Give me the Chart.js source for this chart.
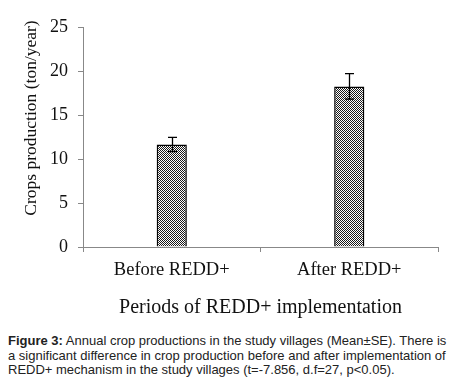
<!DOCTYPE html>
<html>
<head>
<meta charset="utf-8">
<script src="https://cdn.jsdelivr.net/npm/chart.js@4.4.0/dist/chart.umd.min.js"></script>
<style>
  body { margin: 0; background: #fff; }
  #wrap { position: relative; width: 456px; height: 387px; }
  #chart { position: absolute; left: 0; top: 0; }
  .caption {
    position: absolute; left: 8px; top: 334px; width: 446px;
    font-family: "Liberation Sans", Arial, sans-serif; font-size: 13px;
    line-height: 14.7px; color: #222;
  }
</style>
</head>
<body>
<div id="wrap">
  <canvas id="chart" width="456" height="325"></canvas>
  <div class="caption"><b>Figure 3:</b> Annual crop productions in the study villages (Mean±SE). There is a significant difference in crop production before and after implementation of REDD+ mechanism in the study villages (t=-7.856, d.f=27, p&lt;0.05).</div>
</div>
<script>
// data
const periods = ['Before REDD+', 'After REDD+'];
const meanProduction = [11.65, 18.25];
const standardError = [0.8, 1.45];
const yTicks = [0, 5, 10, 15, 20, 25];

const serif = '"Liberation Serif", "Times New Roman", serif';

// checkered fill like the original bars
const makePattern = () => {
    const c = document.createElement('canvas');
    c.width = 2; c.height = 2;
    const g = c.getContext('2d');
    g.fillStyle = '#fff';
    g.fillRect(0, 0, 2, 2);
    g.fillStyle = '#1a1a1a';
    g.fillRect(0, 0, 1, 1);
    g.fillRect(1, 1, 1, 1);
    return g.createPattern(c, 'repeat');
};

// error bars drawn from the scales
const errorBars = {
    id: 'errorBars',
    afterDatasetsDraw(chart) {
        const ctx = chart.ctx;
        const y = chart.scales.y;
        const meta = chart.getDatasetMeta(0);
        ctx.save();
        ctx.strokeStyle = '#000';
        ctx.lineWidth = 1.3;
        meta.data.forEach((bar, i) => {
            const top = y.getPixelForValue(meanProduction[i] + standardError[i]);
            const bot = y.getPixelForValue(meanProduction[i] - standardError[i]);
            const x = Math.round(bar.x) + 0.5;
            ctx.beginPath();
            ctx.moveTo(x, top); ctx.lineTo(x, bot);
            ctx.moveTo(x - 4.5, top); ctx.lineTo(x + 4.5, top);
            ctx.moveTo(x - 4.5, bot); ctx.lineTo(x + 4.5, bot);
            ctx.stroke();
        });
        ctx.restore();
    }
};

// y title sits a bit above the middle of the axis in the original
const yTitle = {
    id: 'yTitle',
    afterDraw(chart) {
        const ctx = chart.ctx;
        ctx.save();
        ctx.translate(31, 118);
        ctx.rotate(-Math.PI / 2);
        ctx.font = '17.5px ' + serif;
        ctx.fillStyle = '#111';
        ctx.textAlign = 'center';
        ctx.textBaseline = 'middle';
        ctx.fillText('Crops production (ton/year)', 0, 0);
        ctx.restore();
    }
};

new Chart(document.getElementById('chart'), {
    type: 'bar',
    data: {
        labels: periods,
        datasets: [{
            data: meanProduction,
            backgroundColor: makePattern(),
            borderColor: '#000',
            borderWidth: 1.5,
            barPercentage: 0.34,
            categoryPercentage: 0.5
        }]
    },
    options: {
        responsive: false,
        animation: false,
        layout: { padding: { top: 27, right: 18, left: 0, bottom: 0 } },
        plugins: { legend: { display: false }, tooltip: { enabled: false } },
        scales: {
            y: {
                min: 0, max: 25,
                afterBuildTicks: (s) => { s.ticks = yTicks.map(v => ({ value: v })); },
                afterFit: (s) => { s.width = 83; },
                border: { color: '#888', width: 1 },
                grid: { drawOnChartArea: false, color: '#888', tickLength: 5 },
                ticks: { color: '#111', font: { family: serif, size: 18 }, padding: 10 }
            },
            x: {
                afterFit: (s) => { s.height = 78; },
                border: { color: '#888', width: 1 },
                grid: { drawOnChartArea: false, color: '#888', tickLength: 5 },
                ticks: { color: '#111', font: { family: serif, size: 18.5 }, padding: 7 },
                title: {
                    display: true, text: 'Periods of REDD+ implementation',
                    color: '#111', font: { family: serif, size: 20 },
                    padding: { top: 10, bottom: 5 }
                }
            }
        }
    },
    plugins: [errorBars, yTitle]
});
</script>
</body>
</html>
